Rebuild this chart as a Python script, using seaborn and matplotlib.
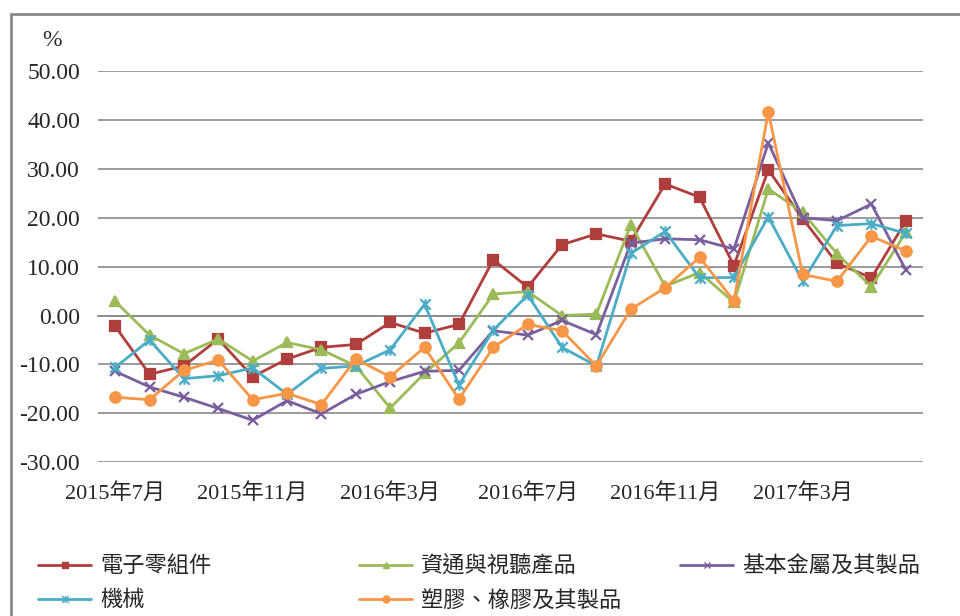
import matplotlib
matplotlib.use('Agg')
import matplotlib.pyplot as plt
from matplotlib.patches import Rectangle
from matplotlib.lines import Line2D
from matplotlib.path import Path
import seaborn as sns

# monthly growth rate (%), 2015/7 - 2017/6
months = ['2015-07', '2015-08', '2015-09', '2015-10', '2015-11', '2015-12',
          '2016-01', '2016-02', '2016-03', '2016-04', '2016-05', '2016-06',
          '2016-07', '2016-08', '2016-09', '2016-10', '2016-11', '2016-12',
          '2017-01', '2017-02', '2017-03', '2017-04', '2017-05', '2017-06']
tick_idx = [0, 4, 8, 12, 16, 20]
tick_labels = ['2015年7月', '2015年11月', '2016年3月', '2016年7月', '2016年11月', '2017年3月']

electronics = [-2.2, -12.0, -10.3, -4.8, -12.5, -8.9, -6.5, -5.9, -1.4, -3.6, -1.8, 11.4,
               5.8, 14.5, 16.7, 15.2, 26.9, 24.2, 10.2, 29.8, 19.8, 10.7, 7.7, 19.3]
ict = [2.9, -4.0, -7.8, -4.8, -9.3, -5.5, -7.0, -10.3, -18.9, -11.8, -5.6, 4.4,
       4.9, 0.0, 0.3, 18.6, 6.0, 8.8, 2.7, 25.9, 21.1, 12.6, 5.9, 17.0]
metals = [-11.4, -14.6, -16.7, -19.0, -21.4, -17.4, -20.1, -16.1, -13.5, -11.4, -11.2, -3.1,
          -4.0, -1.0, -3.9, 14.8, 15.7, 15.5, 13.6, 35.3, 20.0, 19.4, 22.8, 9.3]
machinery = [-10.6, -5.0, -12.9, -12.3, -10.7, -16.1, -10.8, -10.3, -7.0, 2.3, -14.2, -3.0,
             4.2, -6.5, -10.3, 12.7, 17.2, 7.7, 7.8, 20.2, 7.0, 18.4, 18.8, 16.8]
plastics = [-16.7, -17.2, -11.2, -9.1, -17.2, -15.9, -18.2, -8.9, -12.5, -6.5, -17.1, -6.5,
            -1.8, -3.1, -10.3, 1.3, 5.7, 11.9, 3.0, 41.6, 8.4, 7.0, 16.2, 13.2]

names = ['電子零組件', '資通與視聽產品', '基本金屬及其製品', '機械', '塑膠、橡膠及其製品']
series = [electronics, ict, metals, machinery, plastics]
colors = ['#B03E3C', '#9BBB59', '#7B5E9E', '#4BACC6', '#F79646']

# excel style star marker: x plus a vertical bar
star = Path([(-1, -1), (1, 1), (-1, 1), (1, -1), (0, -1), (0, 1)],
            [Path.MOVETO, Path.LINETO, Path.MOVETO, Path.LINETO, Path.MOVETO, Path.LINETO])
markers = ['s', '^', 'x', star, 'o']
sizes = [7, 7.5, 7, 7.5, 7.5]

sns.set_style('white')
plt.rcParams['font.family'] = ['Liberation Serif', 'Noto Sans CJK TC', 'DejaVu Sans']

fig = plt.figure(figsize=(9.6, 6.16), dpi=100)
ax = fig.add_axes([98 / 960, 1 - 462.3 / 616, 825 / 960, 391.3 / 616])

x = list(range(len(months)))
for vals, c, m, ms in zip(series, colors, markers, sizes):
    sns.lineplot(x=x, y=vals, ax=ax, color=c, marker=m, markersize=ms,
                 markeredgecolor=c, markerfacecolor=c, markeredgewidth=1.6,
                 linewidth=2.0, zorder=3)

ax.set_ylim(-30, 50)
ax.set_xlim(-0.5, len(months) - 0.5)
ax.set_yticks(range(-30, 51, 10))
ax.set_yticklabels(['%.2f' % v for v in range(-30, 51, 10)], fontsize=17)
ax.yaxis.grid(True, color='#8a8a8a', linewidth=1.2)
ax.tick_params(axis='y', length=0, pad=13)

for s in ['top', 'right', 'left']:
    ax.spines[s].set_visible(False)
ax.spines['bottom'].set_position(('data', 0))
ax.spines['bottom'].set_color('#8a8a8a')
ax.spines['bottom'].set_linewidth(1.2)
ax.set_xticks([i - 0.5 for i in range(len(months) + 1)])
ax.tick_params(axis='x', direction='inout', length=11, width=1, color='#8a8a8a',
               labelbottom=False)

sec = ax.secondary_xaxis('bottom')
sec.set_xticks(tick_idx, labels=tick_labels)
sec.tick_params(length=0, pad=15, labelsize=16)
sec.spines['bottom'].set_visible(False)

fig.text(52 / 960, 1 - 41 / 616, '%', fontsize=17, ha='center', va='center')

# legend entries placed like the excel layout
spots = [(38, 567), (359, 567), (680, 567), (38, 601), (359, 601)]
for name, c, m, (px, py) in zip(names, colors, markers, spots):
    h = Line2D([], [], color=c, marker=m, markersize=5, markeredgecolor=c,
               markerfacecolor=c, linewidth=2.0)
    fig.legend([h], [name], loc='center left', bbox_to_anchor=(px / 960, 1 - py / 616),
               frameon=False, fontsize=16, handlelength=2.4, handletextpad=0.4,
               borderpad=0, borderaxespad=0)

fig.patches.append(Rectangle((11 / 960, -0.05), 1.1, 1 - 14 / 616 + 0.05,
                             transform=fig.transFigure, fill=False,
                             edgecolor='#8a8a8a', linewidth=2))

fig.savefig('out.png', dpi=100)
